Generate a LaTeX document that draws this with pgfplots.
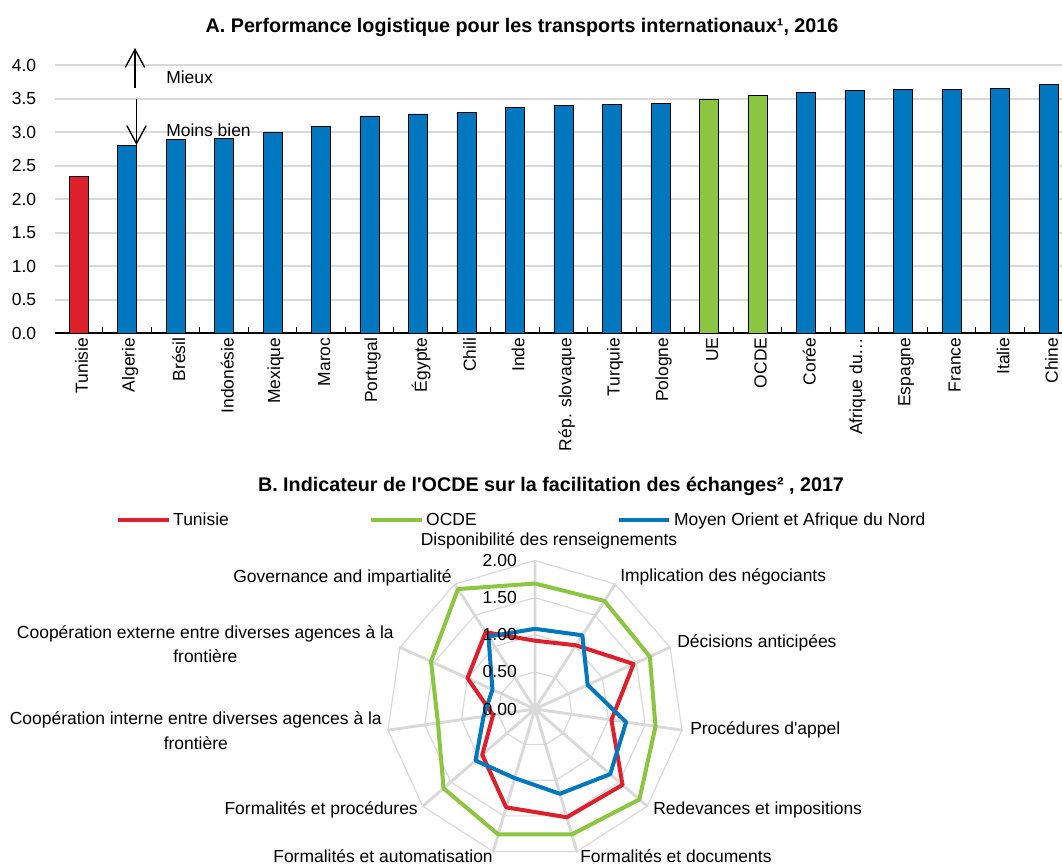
\documentclass[border=0pt]{standalone}
\usepackage{fontspec}
\setmainfont{Liberation Sans}[Ligatures=TeXOff]
\usepackage{pgfplots}
\pgfplotsset{compat=1.18}
\usepgfplotslibrary{polar}
\usetikzlibrary{arrows.meta}

\definecolor{oecdblue}{RGB}{0,119,190}
\definecolor{tunred}{RGB}{221,32,44}
\definecolor{oecdgreen}{RGB}{140,197,65}
\definecolor{gridgray}{RGB}{217,217,217}

\newcommand\ff{\fontsize{13.1}{18.5}\selectfont}
\newcommand\tf{\fontsize{14.8}{18}\selectfont\bfseries}

\begin{document}
\begin{tikzpicture}
\useasboundingbox (0pt,0pt) rectangle (796.5pt,-649.5pt);

% panel A: bars
\begin{axis}[
  at={(41.25pt,-249.75pt)}, anchor=south west,
  scale only axis, width=755.25pt, height=201pt,
  xmin=-0.485, xmax=20.28, ymin=0, ymax=4,
  ybar, bar width=14.25pt,
  axis x line*=bottom, axis y line*=left,
  x axis line style={black, line width=1.1pt},
  y axis line style={draw=none},
  ytick={0,0.5,1,1.5,2,2.5,3,3.5,4},
  ymajorgrids, major grid style={gridgray, line width=1.5pt},
  ytick style={draw=none},
  xtick={0,...,20},
  xticklabels={Tunisie,Algerie,Brésil,Indonésie,Mexique,Maroc,Portugal,Égypte,Chili,Inde,Rép. slovaque,Turquie,Pologne,UE,OCDE,Corée,Afrique du…,Espagne,France,Italie,Chine},
  minor xtick={-0.5,0.5,...,20.5},
  major tick length=0pt, minor tick length=4.5pt,
  minor x tick style={black, line width=1pt},
  tick align=inside,
  xticklabel style={rotate=90, anchor=east, font=\ff, yshift=-2.4pt},
  yticklabel style={font=\ff, xshift=-10.6pt,
    /pgf/number format/fixed, /pgf/number format/fixed zerofill,
    /pgf/number format/precision=1},
  /pgf/number format/assume math mode=true,
]
\addplot[ybar, bar shift=0pt, fill=tunred, draw=black, line width=0.6pt] coordinates {(0,2.33)};
\addplot[ybar, bar shift=0pt, fill=oecdgreen, draw=black, line width=0.6pt] coordinates {(13,3.48) (14,3.54)};
\addplot[ybar, bar shift=0pt, fill=oecdblue, draw=black, line width=0.6pt] coordinates {
  (1,2.80) (2,2.89) (3,2.90) (4,3.00) (5,3.08) (6,3.24) (7,3.27) (8,3.29)
  (9,3.36) (10,3.40) (11,3.41) (12,3.43) (15,3.59) (16,3.62) (17,3.63)
  (18,3.64) (19,3.65) (20,3.71)};
\end{axis}

% panel B: radar
\begin{polaraxis}[
  at={(401.25pt,-531.75pt)}, anchor=center,
  scale only axis, width=222.75pt, height=222.75pt,
  ymin=0, ymax=2,
  hide axis, clip=false,
  legend columns=3,
  legend style={at={(-0.912,1.136)}, anchor=west, draw=none, fill=none,
    inner sep=0pt, font=\ff,
    /tikz/every even column/.append style={column sep=103pt}},
  legend image code/.code={\draw[#1] (0pt,0pt) -- (38pt,0pt);},
]
\addplot[gridgray, line width=0.9pt, forget plot] coordinates {(90,0.5) (57.2727,0.5) (24.5455,0.5) (351.8182,0.5) (319.0909,0.5) (286.3636,0.5) (253.6364,0.5) (220.9091,0.5) (188.1818,0.5) (155.4545,0.5) (122.7273,0.5) (90,0.5)};
\addplot[gridgray, line width=0.9pt, forget plot] coordinates {(90,1) (57.2727,1) (24.5455,1) (351.8182,1) (319.0909,1) (286.3636,1) (253.6364,1) (220.9091,1) (188.1818,1) (155.4545,1) (122.7273,1) (90,1)};
\addplot[gridgray, line width=0.9pt, forget plot] coordinates {(90,1.5) (57.2727,1.5) (24.5455,1.5) (351.8182,1.5) (319.0909,1.5) (286.3636,1.5) (253.6364,1.5) (220.9091,1.5) (188.1818,1.5) (155.4545,1.5) (122.7273,1.5) (90,1.5)};
\addplot[gridgray, line width=0.9pt, forget plot] coordinates {(90,2) (57.2727,2) (24.5455,2) (351.8182,2) (319.0909,2) (286.3636,2) (253.6364,2) (220.9091,2) (188.1818,2) (155.4545,2) (122.7273,2) (90,2)};
\addplot[gridgray, line width=2.2pt, line join=round, forget plot] coordinates {
  (90,2) (0,0) (57.2727,2) (0,0) (24.5455,2) (0,0) (351.8182,2) (0,0)
  (319.0909,2) (0,0) (286.3636,2) (0,0) (253.6364,2) (0,0) (220.9091,2) (0,0)
  (188.1818,2) (0,0) (155.4545,2) (0,0) (122.7273,2)};
\addplot[tunred, line width=3pt, line join=round] coordinates {(90,0.92) (57.2727,1.02) (24.5455,1.46) (351.8182,1.04) (319.0909,1.56) (286.3636,1.52) (253.6364,1.38) (220.9091,0.94) (188.1818,0.57) (155.4545,1.00) (122.7273,1.23) (90,0.92)};
\addlegendentry{Tunisie}
\addplot[oecdgreen, line width=3pt, line join=round] coordinates {(90,1.69) (57.2727,1.73) (24.5455,1.70) (351.8182,1.64) (319.0909,1.86) (286.3636,1.76) (253.6364,1.76) (220.9091,1.63) (188.1818,1.32) (155.4545,1.54) (122.7273,1.92) (90,1.69)};
\addlegendentry{OCDE}
\addplot[oecdblue, line width=3pt, line join=round] coordinates {(90,1.08) (57.2727,1.18) (24.5455,0.78) (351.8182,1.24) (319.0909,1.34) (286.3636,1.19) (253.6364,0.97) (220.9091,1.06) (188.1818,0.70) (155.4545,0.63) (122.7273,1.16) (90,1.08)};
\addlegendentry{Moyen Orient et Afrique du Nord}
\end{polaraxis}

% text, titles and arrows (pixel grid of the reference)
\begin{scope}[x=0.75pt, y=-0.75pt, every node/.style={inner sep=0pt, font=\ff}]
\node[font=\tf] at (522,27) {A. Performance logistique pour les transports internationaux¹, 2016};
\node[font=\tf] at (551,486) {B. Indicateur de l'OCDE sur la facilitation des échanges² , 2017};
\draw[line width=1pt, -{Straight Barb[length=13.5pt,width=14.5pt]}] (135,88) -- (135,48);
\draw[line width=1pt, -{Straight Barb[length=13.5pt,width=14.5pt]}] (136.5,99) -- (136.5,145);
\node[anchor=west] at (166,77) {Mieux};
\node[anchor=west] at (166,130) {Moins bien};
\foreach \v/\t in {0/0.00,0.5/0.50,1/1.00,1.5/1.50,2/2.00}
  \node[anchor=east] at (517,{709-74.25*\v}) {\t};
\node at (549,541) {Disponibilité des renseignements};
\node[anchor=west] at (620,577) {Implication des négociants};
\node[anchor=west] at (677,643) {Décisions anticipées};
\node[anchor=west] at (690,730) {Procédures d'appel};
\node[anchor=west] at (653,810) {Redevances et impositions};
\node[anchor=west] at (580,856) {Formalités et documents};
\node[anchor=east] at (493,856) {Formalités et automatisation};
\node[anchor=east] at (418,810) {Formalités et procédures};
\node[anchor=east, align=center] at (382,730.5) {Coopération interne entre diverses agences à la\\frontière};
\node[anchor=east, align=center] at (394,644) {Coopération externe entre diverses agences à la\\frontière};
\node[anchor=east] at (452,578) {Governance and impartialité};
\end{scope}
\end{tikzpicture}
\end{document}
